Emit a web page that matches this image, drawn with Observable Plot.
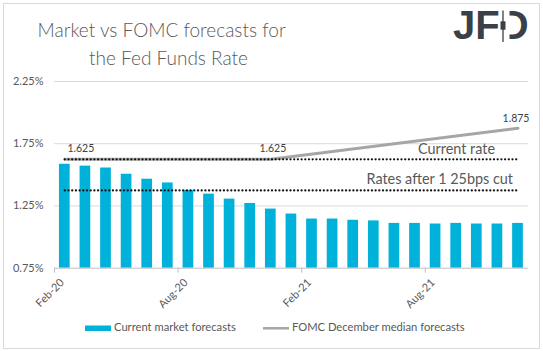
<!DOCTYPE html>
<html><head><meta charset="utf-8">
<script src="https://cdn.jsdelivr.net/npm/d3@7"></script>
<script src="https://cdn.jsdelivr.net/npm/@observablehq/plot@0.6"></script>
<style>
html,body{margin:0;padding:0;background:#fff;}
#chart{position:relative;width:543px;height:351px;overflow:hidden;}
</style></head><body><div id="chart"></div>
<script>
const months = ["Feb-20","Mar-20","Apr-20","May-20","Jun-20","Jul-20","Aug-20","Sep-20","Oct-20","Nov-20","Dec-20",
  "Jan-21","Feb-21","Mar-21","Apr-21","May-21","Jun-21","Jul-21","Aug-21","Sep-21","Oct-21","Nov-21","Dec-21"];
const marketForecasts = [1.585,1.57,1.555,1.505,1.465,1.435,1.375,1.345,1.305,1.27,1.225,
  1.185,1.145,1.145,1.135,1.13,1.11,1.11,1.105,1.11,1.105,1.105,1.11];
const fomcMonths = ["Feb-20","Dec-20","Dec-21"];
const fomcValues = [1.625,1.625,1.875];
const fomcLabels = ["1.625","1.625","1.875"];
const currentRate = 1.625;
const rateAfterCut = 1.375;
const annotations = ["Current rate","Rates after 1 25bps cut"];
const yTicks = [0.75,1.25,1.75,2.25];
const xTickLabels = ["Feb-20","Aug-20","Feb-21","Aug-21"];
const seriesNames = ["Current market forecasts","FOMC December median forecasts"];
const titleLines = ["Market vs FOMC forecasts for","the Fed Funds Rate"];

const barColor = "#00b2d9", lineColor = "#a6a6a6", textColor = "#595959";
const bars = months.map((m,i)=>({month:m, value:marketForecasts[i]}));
const fomc = fomcMonths.map((m,i)=>({month:m, value:fomcValues[i], label:fomcLabels[i]}));
const refs = [{name:annotations[0], value:currentRate},{name:annotations[1], value:rateAfterCut}];
const refPts = refs.flatMap(r=>[{k:r.name, month:months[0], value:r.value},{k:r.name, month:months[months.length-1], value:r.value}]);
const last = months[months.length-1];

const plot = Plot.plot({
  width:543, height:351,
  marginLeft:54, marginRight:15.2, marginTop:81, marginBottom:83.3,
  x:{type:"band", domain:months, paddingInner:0.48, paddingOuter:0.24, round:false, axis:null},
  y:{domain:[yTicks[0], yTicks[yTicks.length-1]], axis:null},
  style:{fontFamily:"Lato, sans-serif", background:"#fff", overflow:"visible"},
  marks:[
    Plot.ruleY(yTicks.slice(1), {stroke:"#d9d9d9", strokeWidth:1}),
    Plot.barY(bars, {x:"month", y1:yTicks[0], y2:"value", fill:barColor}),
    Plot.ruleY([yTicks[0]], {stroke:"#bfbfbf", strokeWidth:1}),
    Plot.ruleX(xTickLabels, {x:d=>d, y1:yTicks[0], y2:yTicks[0], insetBottom:-5, stroke:"#bfbfbf", dx:-10.3}),
    Plot.text(yTicks, {y:d=>d, text:d=>d.toFixed(2)+"%", frameAnchor:"left", textAnchor:"end", dx:-11, fontSize:11, fill:textColor}),
    Plot.text(xTickLabels, {x:d=>d, text:d=>d, frameAnchor:"bottom", rotate:-45, textAnchor:"end", dy:15, fontSize:11, fill:textColor}),
    Plot.line(fomc, {x:"month", y:"value", stroke:lineColor, strokeWidth:3}),
    Plot.line(refPts, {x:"month", y:"value", z:"k", stroke:"#111", strokeWidth:2.3, strokeDasharray:"0 3.7", strokeLinecap:"round"}),
    Plot.text([fomc[0]], {x:"month", y:"value", text:"label", dx:16, dy:-11, fontSize:10.5, fill:"#404040"}),
    Plot.text([fomc[1]], {x:"month", y:"value", text:"label", dx:2, dy:-11, fontSize:10.5, fill:"#404040"}),
    Plot.text([fomc[2]], {x:"month", y:"value", text:"label", dx:-2, dy:-9.5, fontSize:10.5, fill:"#404040"}),
    Plot.text([refs[0]], {x:()=>last, y:"value", text:"name", textAnchor:"end", dx:-23, dy:-9.5, fontSize:14.4, fill:textColor}),
    Plot.text([refs[1]], {x:()=>last, y:"value", text:"name", textAnchor:"end", dx:-5, dy:-11, fontSize:14.4, fill:textColor})
  ]
});
document.getElementById("chart").appendChild(plot);
const svg = d3.select(plot);
svg.append("rect").attr("x",3.5).attr("y",3.5).attr("width",536).attr("height",345).attr("fill","none").attr("stroke","#d9d9d9");
const title = svg.append("g").attr("fill",textColor).attr("font-family","Lato, sans-serif").attr("font-weight",300).attr("font-size",19).attr("text-anchor","middle");
title.append("text").attr("x",161.6).attr("y",36.7).text(titleLines[0]);
title.append("text").attr("x",168.5).attr("y",65).text(titleLines[1]);
// logo: JFD with a candlestick replacing the D's stem
const logo = svg.append("g");
logo.append("text").attr("x",453).attr("y",39).attr("text-anchor","start").attr("font-family","Liberation Sans, Arial, sans-serif").attr("font-weight","bold").attr("font-size",40).attr("fill","#3b4048").text("JFD");
logo.append("rect").attr("x",500.5).attr("y",9).attr("width",9).attr("height",32).attr("fill","#fff");
logo.append("line").attr("x1",503).attr("x2",503).attr("y1",10.5).attr("y2",42).attr("stroke","#3b4048").attr("stroke-width",1.3);
logo.append("rect").attr("x",500.5).attr("y",21.3).attr("width",5).attr("height",8.4).attr("fill","#3b4048");
const lg = svg.append("g").attr("font-family","Lato, sans-serif").attr("font-size",11.2).attr("fill",textColor).attr("text-anchor","start");
lg.append("rect").attr("x",85).attr("y",325.5).attr("width",26).attr("height",5.5).attr("fill",barColor);
lg.append("text").attr("x",114).attr("y",327.5).attr("dy","0.35em").text(seriesNames[0]);
lg.append("line").attr("x1",263).attr("x2",289).attr("y1",328.3).attr("y2",328.3).attr("stroke",lineColor).attr("stroke-width",2.5);
lg.append("text").attr("x",292).attr("y",327.5).attr("dy","0.35em").text(seriesNames[1]);
</script></body></html>
